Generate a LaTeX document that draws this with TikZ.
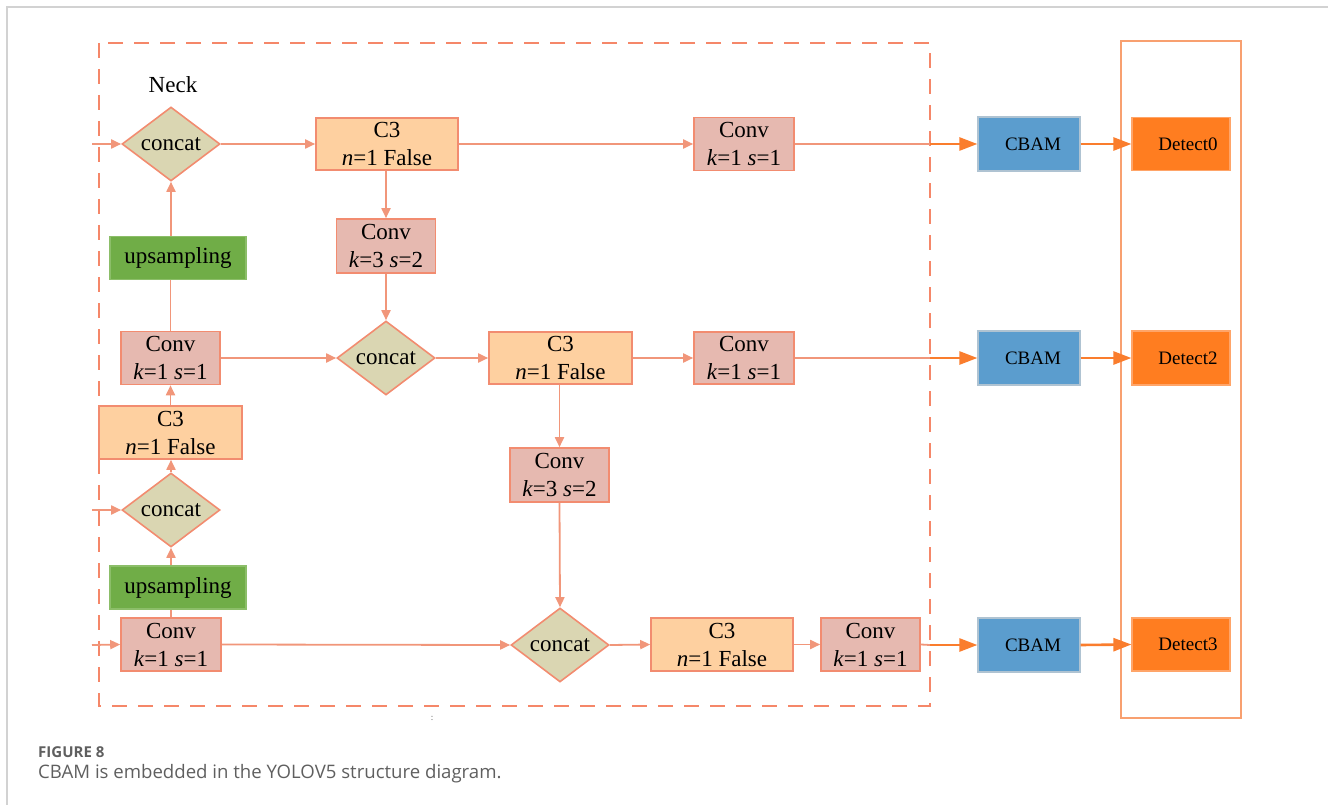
\documentclass[tikz,border=0pt]{standalone}
\usepackage{fontspec}
\setmainfont{Liberation Serif}
\newfontfamily\capfont{Open Sans}
\usetikzlibrary{shapes.geometric,arrows.meta}

\definecolor{linkC}{RGB}{241,150,122}
\definecolor{edgeC}{RGB}{242,140,112}
\definecolor{convC}{RGB}{230,185,176}
\definecolor{cthreeC}{RGB}{254,208,160}
\definecolor{catC}{RGB}{218,214,178}
\definecolor{upC}{RGB}{112,173,71}
\definecolor{upEdge}{RGB}{140,190,105}
\definecolor{cbamC}{RGB}{91,157,206}
\definecolor{cbamEdge}{RGB}{175,195,210}
\definecolor{detC}{RGB}{255,125,32}
\definecolor{detEdge}{RGB}{255,165,105}
\definecolor{boldC}{RGB}{250,125,45}
\definecolor{neckC}{RGB}{245,135,105}
\definecolor{headC}{RGB}{248,160,112}
\definecolor{capC}{RGB}{95,95,95}

\tikzset{
  blk/.style={draw=edgeC, line width=1.6pt, inner sep=0pt, align=center,
    font=\fontsize{23}{28}\selectfont},
  convbox/.style={blk, fill=convC, minimum width=100pt, minimum height=53pt},
  cthreebox/.style={blk, fill=cthreeC, minimum width=142pt, minimum height=52pt},
  catbox/.style={blk, diamond, aspect=1.32, fill=catC, minimum width=98pt, minimum height=74pt},
  upbox/.style={blk, draw=upEdge, fill=upC, minimum width=136pt, minimum height=43pt},
  cbambox/.style={draw=cbamEdge, line width=1.2pt, fill=cbamC, inner sep=0pt,
    minimum width=102pt, minimum height=54pt, font=\fontsize{19}{22}\selectfont},
  detbox/.style={draw=detEdge, line width=1.2pt, fill=detC, inner sep=0pt,
    minimum width=98pt, minimum height=53pt, font=\fontsize{19}{22}\selectfont},
  link/.style={draw=linkC, line width=1.8pt, -{Triangle[length=10pt,width=9pt]}},
  plain/.style={draw=linkC, line width=1.8pt},
  boldlink/.style={draw=boldC, line width=2.6pt, -{Triangle[length=18pt,width=13pt]}},
}
% labels in the head boxes sit a little right of centre
\newcommand{\headtext}[2]{\hspace*{#1}#2}

\begin{document}
\begin{tikzpicture}[x=1pt,y=-1pt]
\useasboundingbox (0,0) rectangle (1328,805);

% page frame
\draw[gray!35, line width=1.5pt] (7,805) -- (7,7) -- (1328,7);

% neck region and head region
\draw[neckC, line width=2.6pt, dash pattern=on 15pt off 11pt] (99,43) rectangle (930,706);
\draw[headC, line width=2pt] (1121,41) rectangle (1241,718);
\node[font=\fontsize{23}{28}\selectfont] (necklbl) at (173,85) {Neck};

% top row
\node[catbox] (cat1) at (171,144) {concat};
\node[cthreebox] (c3a) at (387,144) {C3\\\textit{n}=1 False};
\node[convbox] (cva) at (744,144) {Conv\\\textit{k}=1 \textit{s}=1};
\node[cbambox] (cbam1) at (1029,144) {\headtext{8pt}{CBAM}};
\node[detbox] (det0) at (1181,144) {\headtext{14pt}{Detect0}};
\node[convbox, minimum width=99pt, minimum height=54pt] (ck1) at (386,246) {Conv\\\textit{k}=3 \textit{s}=2};
\node[upbox] (up1) at (178,258) {upsampling};

% middle row
\node[convbox, minimum width=99pt] (cl2) at (170.5,358) {Conv\\\textit{k}=1 \textit{s}=1};
\node[catbox] (cat2) at (386,358) {concat};
\node[cthreebox, minimum width=143pt] (c3b) at (560.5,358) {C3\\\textit{n}=1 False};
\node[convbox, minimum height=52pt] (cvb) at (744,358) {Conv\\\textit{k}=1 \textit{s}=1};
\node[cbambox] (cbam2) at (1029,358) {\headtext{8pt}{CBAM}};
\node[detbox, minimum height=54pt] (det2) at (1181,358) {\headtext{14pt}{Detect2}};
\node[cthreebox, minimum width=143pt, minimum height=53pt] (c3l) at (170.5,432.5) {C3\\\textit{n}=1 False};
\node[convbox, minimum width=99pt, minimum height=54pt] (ck2) at (559.5,475) {Conv\\\textit{k}=3 \textit{s}=2};
\node[catbox] (cat4) at (171,510) {concat};
\node[upbox] (up2) at (178,587.5) {upsampling};

% bottom row
\node[convbox] (cl3) at (171,644.5) {Conv\\\textit{k}=1 \textit{s}=1};
\node[catbox] (cat3) at (560,645) {concat};
\node[cthreebox, minimum height=53pt] (c3c) at (722,644.5) {C3\\\textit{n}=1 False};
\node[convbox, minimum width=99pt] (cvc) at (870.5,644.5) {Conv\\\textit{k}=1 \textit{s}=1};
\node[cbambox] (cbam3) at (1029,645) {\headtext{8pt}{CBAM}};
\node[detbox] (det3) at (1181,644.5) {\headtext{14pt}{Detect3}};

% inputs entering from the backbone
\coordinate (in1) at (92,144);
\coordinate (in4) at (92,510);
\coordinate (in3) at (92,645);
% points where the outputs leave the neck
\coordinate (j1) at (930,144);
\coordinate (j2) at (930,358);
\coordinate (j3) at (930,645);

% connectors
\draw[link] (in1) -- (cat1.west);
\draw[link] (cat1.east) -- (c3a.west);
\draw[link] (c3a.east) -- (cva.west);
\draw[plain] (cva.east) -- (j1);
\draw[boldlink] (j1) -- (cbam1.west);
\draw[boldlink] (cbam1.east) -- (det0.west);
\draw[link] (c3a.south -| ck1.north) -- (ck1.north);
\draw[link] (ck1.south) -- (cat2.north);

\draw[plain] (cl2.north) -- (cl2.north |- up1.south);
\draw[link] (cat1.south |- up1.north) -- (cat1.south);
\draw[link] (cl2.east) -- (cat2.west);
\draw[link] (cat2.east) -- (c3b.west);
\draw[link] (c3b.east) -- (cvb.west);
\draw[plain] (cvb.east) -- (j2);
\draw[boldlink] (j2) -- (cbam2.west);
\draw[boldlink] (cbam2.east) -- (det2.west);
\draw[link] (c3b.south -| ck2.north) -- (ck2.north);
\draw[link] (ck2.south) -- (cat3.north);

\draw[link] (c3l.north -| cl2.south) -- (cl2.south);
\draw[link] (in4) -- (cat4.west);
\draw[link] (cat4.north) -- (cat4.north |- c3l.south);
\draw[link] (cat4.south |- up2.north) -- (cat4.south);
\draw[plain] (cl3.north) -- (cl3.north |- up2.south);

\draw[link] (in3) -- (cl3.west);
\draw[link] (cl3.east) -- (cat3.west);
\draw[link] (cat3.east) -- (c3c.west);
\draw[link] (c3c.east) -- (cvc.west);
\draw[plain] (cvc.east) -- (j3);
\draw[boldlink] (j3) -- (cbam3.west);
\draw[boldlink] (cbam3.east) -- (det3.west);

% stray mark below the neck frame
\node[font=\fontsize{9}{9}\selectfont, text=gray!70!black] (mark) at (432,718) {:};

% caption
\node[anchor=base west, inner sep=0pt, text=capC, font=\capfont\fontsize{15}{18}\selectfont\bfseries] (figno) at (38,757) {FIGURE 8};
\node[anchor=base west, inner sep=0pt, text=capC, font=\capfont\fontsize{18.6}{22}\selectfont] (figcap) at (38,778) {CBAM is embedded in the YOLOV5 structure diagram.};
\end{tikzpicture}
\end{document}
